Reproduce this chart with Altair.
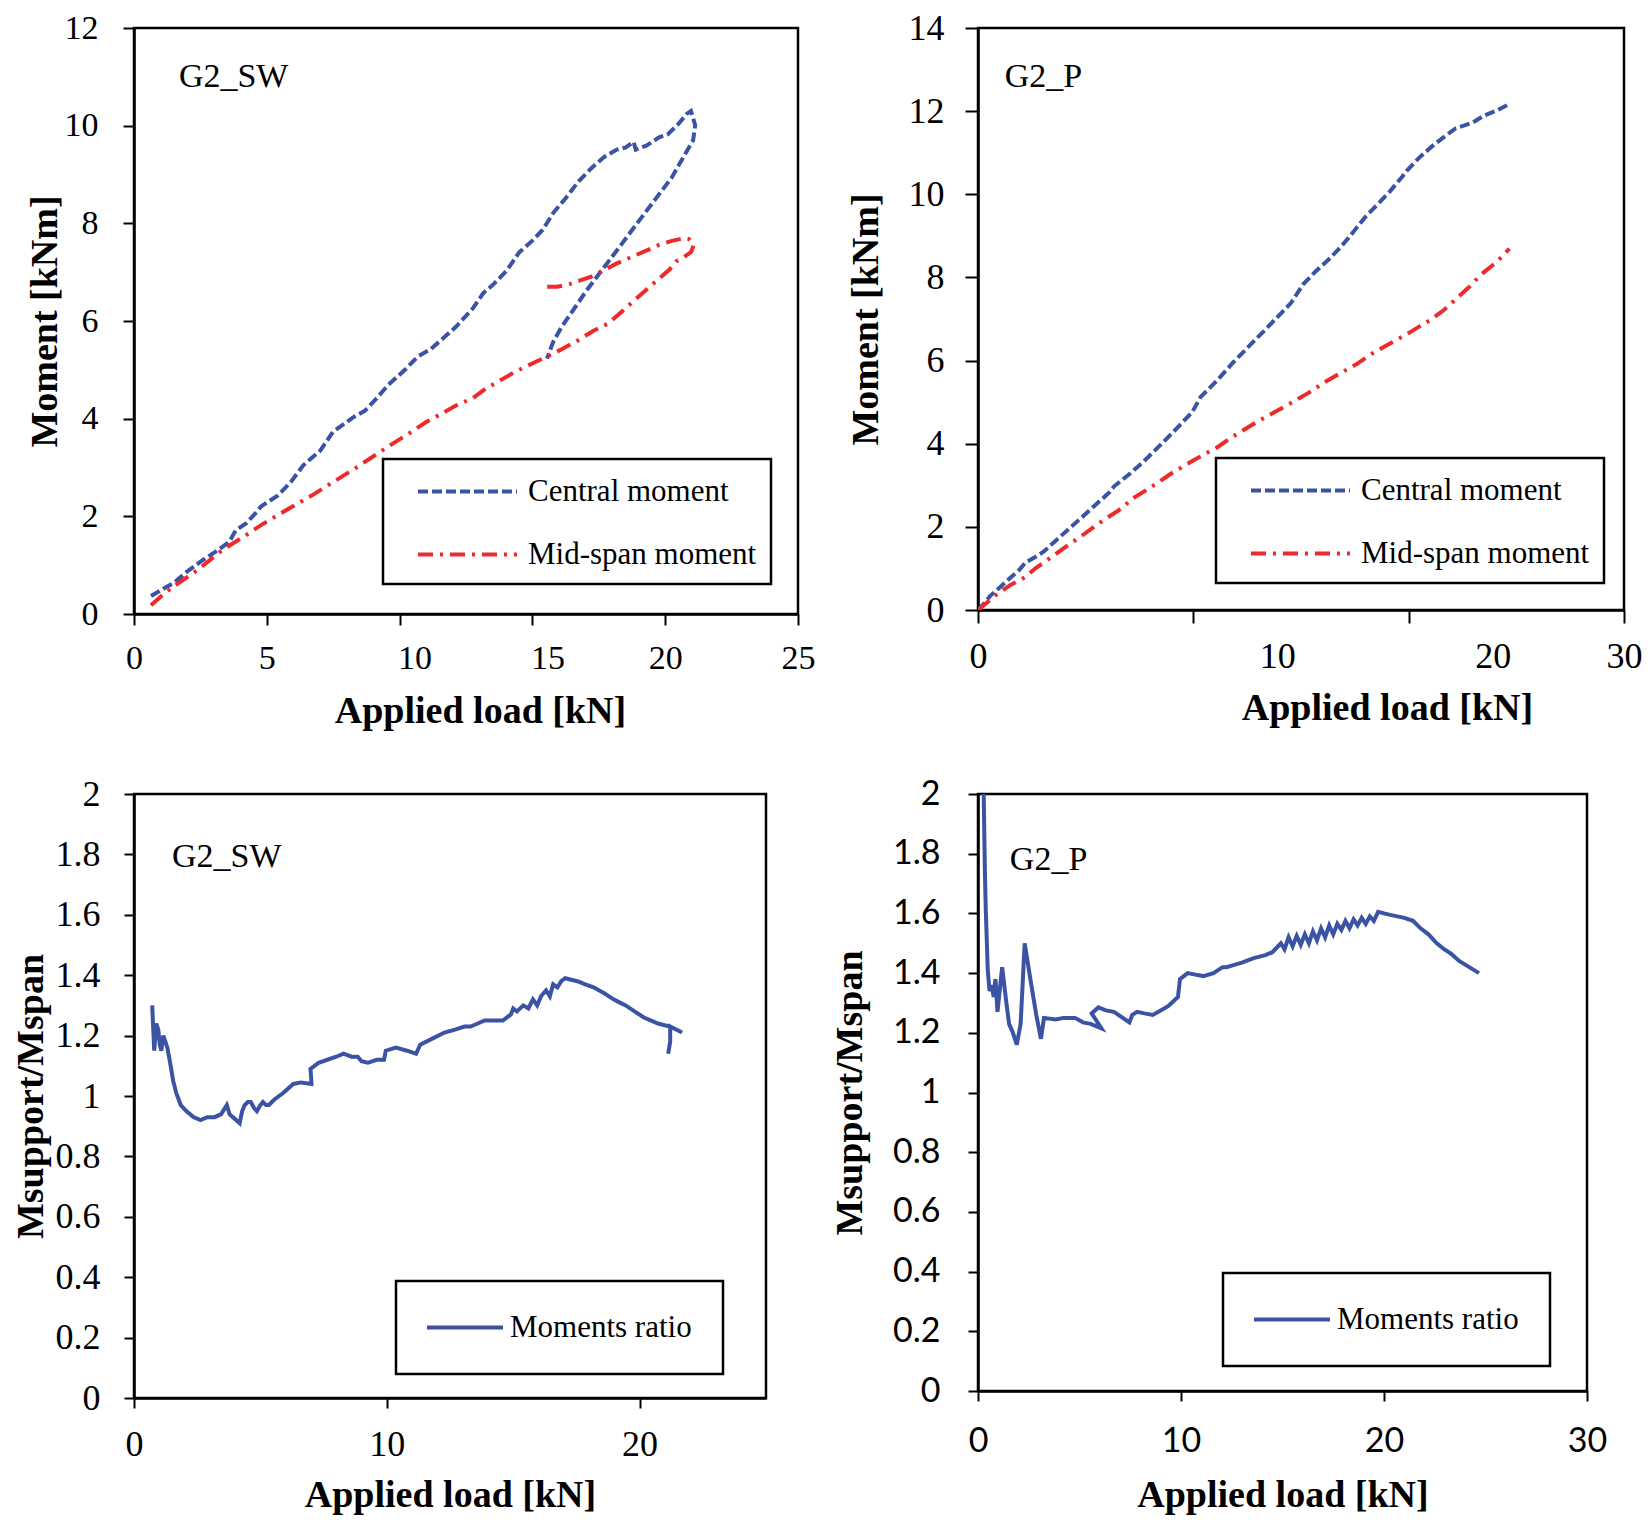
import altair as alt
import pandas as pd

BLUE = "#3A53A4"
RED = "#EE2A2A"
SERIES = ["Central moment", "Mid-span moment"]
RATIO = "Moments ratio"

# ---- Panel A: G2_SW moments ----
sw_c_load = [0.64, 1.12, 1.51, 1.91, 2.55, 3.19, 3.59, 3.83, 4.23, 4.62, 4.78, 5.42, 5.90, 6.38, 7.02, 7.49,
             8.29, 8.69, 9.09, 9.57, 10.20, 10.68, 11.16, 11.48, 12.12, 12.76, 13.15, 13.55, 14.03, 14.51,
             14.99, 15.39, 15.78, 16.26, 16.74, 17.22, 17.70, 18.18, 18.50, 18.81, 18.89, 19.29, 19.77,
             20.09, 20.49, 20.81, 20.97, 21.13, 21.05, 20.73, 20.25, 19.61, 18.97, 18.34, 17.70, 17.06,
             16.58, 16.10, 15.78, 15.55]
sw_c_mom = [0.37, 0.52, 0.64, 0.83, 1.09, 1.32, 1.48, 1.71, 1.86, 2.09, 2.20, 2.43, 2.70, 3.05, 3.35, 3.73,
            4.04, 4.16, 4.39, 4.69, 5.00, 5.27, 5.42, 5.57, 5.88, 6.26, 6.57, 6.76, 7.03, 7.41,
            7.64, 7.87, 8.21, 8.52, 8.86, 9.13, 9.36, 9.51, 9.55, 9.67, 9.51, 9.59, 9.76,
            9.82, 10.03, 10.24, 10.30, 10.01, 9.70, 9.40, 8.94, 8.48, 8.02, 7.56, 7.10, 6.64,
            6.26, 5.88, 5.57, 5.23]
sw_m_load = [0.64, 1.12, 1.59, 2.39, 3.35, 4.15, 4.78, 5.74, 6.70, 7.49, 8.29, 8.93, 9.57, 10.36, 11.00,
             11.64, 12.12, 12.76, 13.23, 13.87, 14.35, 14.99, 15.55, 16.10, 16.74, 17.30, 17.86, 18.34,
             18.81, 19.29, 19.77, 20.17, 20.41, 20.73, 20.97, 21.08, 20.89, 20.73, 20.25, 19.77, 19.45,
             18.81, 18.18, 17.70, 17.22, 16.74, 16.42, 15.94, 15.55]
sw_m_mom = [0.18, 0.41, 0.60, 0.90, 1.32, 1.59, 1.82, 2.13, 2.43, 2.70, 2.97, 3.20, 3.43, 3.70, 3.93,
            4.12, 4.27, 4.42, 4.61, 4.81, 4.96, 5.13, 5.27, 5.42, 5.61, 5.80, 5.95, 6.18,
            6.41, 6.64, 6.87, 7.06, 7.22, 7.32, 7.41, 7.56, 7.68, 7.70, 7.64, 7.56, 7.48,
            7.33, 7.18, 7.04, 6.91, 6.82, 6.76, 6.70, 6.70]

# ---- Panel B: G2_P moments ----
p_c_load = [0.00, 0.29, 0.57, 1.05, 1.53, 1.91, 2.20, 2.68, 3.06, 3.44, 3.83, 4.78, 5.74, 6.12, 6.31, 7.08,
            7.65, 8.61, 9.38, 9.95, 10.33, 11.10, 11.86, 12.63, 13.39, 14.06, 14.54, 15.11, 15.69, 16.26,
            16.84, 17.22, 17.98, 18.56, 19.13, 19.71, 19.90, 20.47, 21.05, 21.62, 22.19, 22.96, 23.53,
            24.11, 24.68]
p_c_mom = [0.00, 0.16, 0.34, 0.56, 0.79, 0.96, 1.14, 1.28, 1.41, 1.59, 1.77, 2.21, 2.66, 2.84, 2.97, 3.29,
           3.55, 4.04, 4.45, 4.76, 5.12, 5.52, 5.96, 6.37, 6.77, 7.13, 7.39, 7.84, 8.15, 8.42,
           8.73, 8.96, 9.45, 9.76, 10.07, 10.43, 10.56, 10.87, 11.14, 11.37, 11.59, 11.72, 11.90,
           12.02, 12.17]
p_m_load = [0.00, 0.38, 0.77, 1.53, 2.20, 2.68, 3.06, 4.02, 4.78, 5.74, 6.51, 7.27, 8.23, 8.99, 10.14,
            11.10, 11.86, 13.01, 13.78, 14.54, 15.31, 16.07, 16.84, 17.60, 18.37, 19.13, 19.90, 20.47,
            21.05, 21.62, 22.19, 22.77, 23.34, 24.11, 24.68]
p_m_mom = [0.00, 0.16, 0.34, 0.61, 0.79, 1.01, 1.14, 1.50, 1.77, 2.13, 2.39, 2.71, 3.02, 3.29, 3.64,
           3.91, 4.18, 4.54, 4.76, 4.98, 5.21, 5.47, 5.70, 5.92, 6.19, 6.41, 6.63, 6.81,
           6.99, 7.21, 7.48, 7.75, 8.06, 8.38, 8.69]

# ---- Panel C: G2_SW ratio ----
sw_r_load = [0.72, 0.80, 0.88, 0.96, 1.02, 1.08, 1.16, 1.24, 1.32, 1.43, 1.55, 1.67, 1.85, 2.07, 2.35, 2.63,
             2.90, 3.19, 3.45, 3.67, 3.78, 3.91, 4.05, 4.18, 4.28, 4.38, 4.50, 4.62, 4.75, 4.86, 5.00,
             5.10, 5.22, 5.34, 5.45, 5.58, 5.90, 6.30, 6.60, 7.02, 7.00, 6.98, 7.30, 7.65, 8.00, 8.29,
             8.60, 8.85, 9.00, 9.25, 9.60, 9.89, 9.96, 10.36, 10.80, 11.16, 11.32, 11.80, 12.28, 12.70,
             13.07, 13.31, 13.60, 13.87, 14.20, 14.59, 14.91, 15.00, 15.15, 15.40, 15.60, 15.78, 15.95,
             16.10, 16.30, 16.45, 16.58, 16.75, 16.90, 17.06, 17.30, 17.54, 17.85, 18.18, 18.60, 18.97,
             19.20, 19.45, 19.80, 20.17, 20.73, 21.20, 21.68, 21.21, 21.21, 21.13]
sw_r_val = [1.30, 1.15, 1.24, 1.22, 1.17, 1.15, 1.20, 1.18, 1.16, 1.11, 1.05, 1.01, 0.97, 0.95, 0.93, 0.92,
            0.93, 0.93, 0.94, 0.97, 0.94, 0.93, 0.92, 0.91, 0.95, 0.97, 0.98, 0.98, 0.96, 0.95, 0.97,
            0.98, 0.97, 0.97, 0.98, 0.99, 1.01, 1.04, 1.045, 1.04, 1.07, 1.09, 1.11, 1.12, 1.13, 1.14,
            1.13, 1.13, 1.115, 1.11, 1.12, 1.12, 1.15, 1.16, 1.15, 1.14, 1.17, 1.19, 1.21, 1.22,
            1.23, 1.23, 1.24, 1.25, 1.25, 1.25, 1.27, 1.29, 1.28, 1.30, 1.29, 1.32, 1.30,
            1.33, 1.35, 1.33, 1.37, 1.36, 1.38, 1.39, 1.385, 1.38, 1.37, 1.36, 1.34, 1.32,
            1.31, 1.30, 1.28, 1.26, 1.24, 1.23, 1.21, 1.23, 1.18, 1.14]

# ---- Panel D: G2_P ratio ----
p_r_load = [0.27, 0.34, 0.38, 0.48, 0.57, 0.67, 0.77, 0.86, 0.96, 1.19, 1.38, 1.53, 1.72, 1.91, 2.10, 2.30,
            2.58, 2.87, 3.10, 3.25, 3.83, 4.21, 4.78, 5.17, 5.55, 6.08, 5.60, 5.93, 6.30, 6.70, 7.46,
            7.60, 7.84, 8.20, 8.61, 9.00, 9.38, 9.85, 9.95, 10.33, 10.70, 11.10, 11.60, 12.05, 12.24,
            12.50, 13.00, 13.58, 14.16, 14.50, 14.92, 15.10, 15.30, 15.50, 15.70, 15.90, 16.10, 16.30,
            16.50, 16.70, 16.90, 17.10, 17.30, 17.50, 17.70, 17.90, 18.10, 18.30, 18.50, 18.70, 18.90,
            19.10, 19.30, 19.50, 19.71, 20.00, 20.30, 20.66, 21.00, 21.43, 21.80, 22.19, 22.60, 22.96,
            23.30, 23.72, 24.20, 24.68]
p_r_val = [2.05, 1.74, 1.62, 1.41, 1.34, 1.36, 1.32, 1.38, 1.27, 1.42, 1.31, 1.23, 1.20, 1.16, 1.23, 1.50,
           1.38, 1.26, 1.18, 1.25, 1.245, 1.25, 1.25, 1.235, 1.23, 1.215, 1.265, 1.285, 1.275, 1.27, 1.235,
           1.26, 1.27, 1.265, 1.26, 1.275, 1.29, 1.32, 1.38, 1.40, 1.395, 1.39, 1.40, 1.42, 1.42,
           1.425, 1.435, 1.45, 1.46, 1.47, 1.50, 1.48, 1.52, 1.49, 1.525, 1.495, 1.53, 1.50,
           1.54, 1.51, 1.55, 1.52, 1.56, 1.53, 1.565, 1.545, 1.575, 1.55, 1.58, 1.56, 1.585,
           1.565, 1.59, 1.575, 1.605, 1.60, 1.595, 1.59, 1.585, 1.575, 1.55, 1.53, 1.50, 1.48,
           1.465, 1.44, 1.42, 1.40]

# panel labels (placed in data units)
tags = ["G2_SW", "G2_P", "G2_SW", "G2_P"]
tag_load = [1.69, 1.24, 1.50, 1.57]
tag_val = [11.0, 12.83, 1.79, 1.78]

SERIF = "Liberation Serif"
SANS = "Lato"


def moment_frame(cl, cm, ml, mm):
    rows = []
    for name, xs, ys in ((SERIES[0], cl, cm), (SERIES[1], ml, mm)):
        for i, (x, y) in enumerate(zip(xs, ys)):
            rows.append({"load": x, "value": y, "series": name, "idx": i})
    return pd.DataFrame(rows)


def ratio_frame(xs, ys):
    return pd.DataFrame({"load": xs, "value": ys, "series": RATIO, "idx": list(range(len(xs)))})


def make_axis(values, title, lab_font, lab_size, lab_pad, tick, title_pad, fmt=None, **kw):
    args = dict(values=values, title=title, labelFont=lab_font, labelFontSize=lab_size,
                labelPadding=lab_pad, tickSize=tick, titlePadding=title_pad)
    if fmt:
        args["format"] = fmt
    args.update(kw)
    return alt.Axis(**args)


def panel(df, tag_i, xdom, ydom, xaxis, yaxis, color_enc, dash_enc, width, height, sw):
    x = alt.X("load:Q", scale=alt.Scale(domain=xdom, nice=False, zero=False), axis=xaxis)
    y = alt.Y("value:Q", scale=alt.Scale(domain=ydom, nice=False, zero=False), axis=yaxis)
    enc = dict(x=x, y=y, color=color_enc, order="idx:Q")
    if dash_enc is not None:
        enc["strokeDash"] = dash_enc
    line = alt.Chart(df).mark_line(strokeWidth=sw, clip=True).encode(**enc)
    tdf = pd.DataFrame({"load": [tag_load[tag_i]], "value": [tag_val[tag_i]], "tag": [tags[tag_i]]})
    text = alt.Chart(tdf).mark_text(align="left", baseline="middle", font=SERIF, fontSize=34,
                                    color="black").encode(x="load:Q", y="value:Q", text="tag:N")
    return alt.layer(line, text).properties(width=width, height=height)


def moment_legend(lx, ly):
    return alt.Legend(title=None, orient="none", legendX=lx, legendY=ly,
                      symbolType="M-3,0H3", symbolSize=1089, symbolStrokeWidth=4,
                      symbolOffset=52, labelOffset=42, padding=14, rowPadding=29,
                      labelFont=SERIF, labelFontSize=31, labelColor="black",
                      strokeColor="black", labelLimit=500)


def ratio_legend(lx, ly):
    return alt.Legend(title=None, orient="none", legendX=lx, legendY=ly,
                      symbolType="M-3,0H3", symbolSize=642, symbolStrokeWidth=4,
                      symbolOffset=22.5, labelOffset=29.5, padding=31,
                      labelFont=SERIF, labelFontSize=31, labelColor="black",
                      strokeColor="black", labelLimit=500)


color_scale_m = alt.Scale(domain=SERIES, range=[BLUE, RED])
dash_scale_m = alt.Scale(domain=SERIES, range=[[10, 4], [15, 7, 3, 7]])
color_scale_r = alt.Scale(domain=[RATIO], range=[BLUE])

# Panel A
legA = moment_legend(249, 431)
A = panel(
    moment_frame(sw_c_load, sw_c_mom, sw_m_load, sw_m_mom), 0, [0, 25], [0, 12],
    make_axis([0, 5, 10, 15, 20, 25], "Applied load [kN]", SERIF, 34, 16, 11, 17, titleX=346,
              labelOffset={"condition": {"test": "datum.value == 10 || datum.value == 15", "value": 15},
                           "value": 0}),
    make_axis(list(range(0, 13, 2)), "Moment [kNm]", SERIF, 34, 25, 11, 0),
    alt.Color("series:N", scale=color_scale_m, legend=legA),
    alt.StrokeDash("series:N", scale=dash_scale_m, legend=legA),
    664, 586, 4)

# Panel B
legB = moment_legend(238, 430)
B = panel(
    moment_frame(p_c_load, p_c_mom, p_m_load, p_m_mom), 1, [0, 30], [0, 14],
    make_axis([0, 10, 20, 30], "Applied load [kN]", SERIF, 36, 16, 13, 15, titleX=409,
              labelOffset={"condition": {"test": "datum.value == 10 || datum.value == 20", "value": 84},
                           "value": 0}),
    make_axis(list(range(0, 15, 2)), "Moment [kNm]", SERIF, 36, 21, 13, 23),
    alt.Color("series:N", scale=color_scale_m, legend=legB),
    alt.StrokeDash("series:N", scale=dash_scale_m, legend=legB),
    646, 582, 4)

ratio_ticks = [0, 0.2, 0.4, 0.6, 0.8, 1, 1.2, 1.4, 1.6, 1.8, 2]

# Panel C
C = panel(
    ratio_frame(sw_r_load, sw_r_val), 2, [0, 25], [0, 2],
    make_axis([0, 10, 20], "Applied load [kN]", SERIF, 36, 19, 10, 14),
    make_axis(ratio_ticks, "Msupport/Mspan", SERIF, 36, 24, 10, 5, fmt="~g"),
    alt.Color("series:N", scale=color_scale_r, legend=ratio_legend(262, 487)),
    None, 632, 604, 4)

# Panel D
D = panel(
    ratio_frame(p_r_load, p_r_val), 3, [0, 30], [0, 2],
    make_axis([0, 10, 20, 30], "Applied load [kN]", SANS, 34, 23, 10, 18),
    make_axis(ratio_ticks, "Msupport/Mspan", SANS, 34, 28, 10, 23, fmt="~g"),
    alt.Color("series:N", scale=color_scale_r, legend=ratio_legend(245, 479)),
    None, 609, 597, 4)

chart = alt.concat(A, B, C, D, columns=2, spacing={"row": 180, "column": 180},
                   bounds="flush").resolve_scale(
    color="independent", strokeDash="independent", x="independent", y="independent"
).properties(
    padding={"left": 2, "top": 0, "right": 0, "bottom": 0}
).configure_view(
    stroke="black", strokeWidth=2.5
).configure_axis(
    domainColor="black", domainWidth=2.5, tickColor="black", tickWidth=2,
    labelColor="black", titleColor="black", grid=False, labelFlush=False, labelOverlap=False,
    titleFont=SERIF, titleFontSize=38, titleFontWeight="bold"
).configure_legend(
    strokeWidth=2.5
)

chart.save("out.html", embed_options={"renderer": "svg", "actions": False})
